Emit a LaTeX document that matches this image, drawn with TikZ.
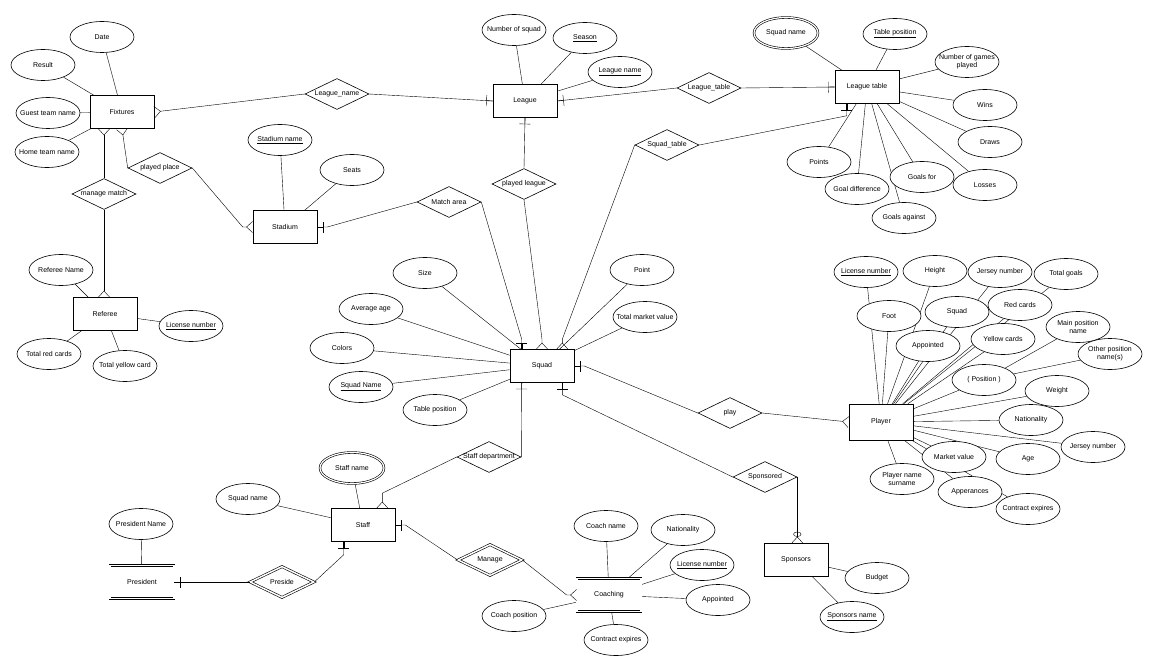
\documentclass[tikz,border=0pt]{standalone}
\usepackage{fontspec}
\setmainfont{Liberation Sans}
\usetikzlibrary{shapes.geometric,arrows.meta,backgrounds}
\begin{document}
\begin{tikzpicture}[x=1pt,y=-1pt,line width=0.6pt,
  every node/.style={font=\fontsize{7}{8}\selectfont},
  ent/.style={draw,fill=white,rectangle,minimum width=64pt,minimum height=33pt},
  went/.style={ent,double,double distance=1.5pt},
  attr/.style={draw,fill=white,ellipse,minimum width=64pt,minimum height=31pt,inner xsep=-6pt,inner ysep=0pt,align=center},
  wattr/.style={attr,double,double distance=1.2pt},
  rel/.style={draw,fill=white,diamond,minimum width=64pt,minimum height=31pt,inner sep=0pt,aspect=2,label={center:#1}},
  wrel/.style={rel=#1,double,double distance=1.5pt},
  one/.style={-{Bar[width=11pt]Rectangle[length=6pt,width=0.6pt]}},
  crow/.style={-{Straight Barb[reversed,length=6pt,width=11pt]}},
  ocrow/.style={-{Circle[open,length=5pt,width=8pt]Straight Barb[reversed,length=6pt,width=11pt]}}
]
\useasboundingbox (0,0) rectangle (1156,671);
% entities
\node[ent] (fx) at (122,112) {Fixtures};
\node[ent] (lg) at (525,101) {League};
\node[ent] (ltab) at (867,87) {League table};
\node[ent] (sd) at (285,227) {Stadium};
\node[ent] (rf) at (105,314) {Referee};
\node[ent] (sq) at (542,366) {Squad};
\node[ent,minimum height=36pt] (py) at (881,422) {Player};
\node[ent] (sf) at (363,525) {Staff};
\node[went] (pres) at (142,582) {President};
\node[went] (co) at (609,595) {Coaching};
\node[ent] (spn) at (796,560) {Sponsors};
% relationships
\node[rel=League\_name] (ln) at (337,94) {};
\node[rel=League\_table] (ltr) at (709,88) {};
\node[rel=Squad\_table] (st) at (667,145) {};
\node[rel=played league] (pl) at (524,184) {};
\node[rel=Match area] (ma) at (449,202) {};
\node[rel=played place] (pp) at (160,168) {};
\node[rel=manage match] (mm) at (104,194) {};
\node[rel=play] (pw) at (730,413) {};
\node[rel=Sponsored] (sp) at (765,477) {};
\node[rel=Staff department] (sdp) at (489,457) {};
\node[wrel=Manage] (mg) at (490,560) {};
\node[wrel=Preside] (pr) at (282,582) {};
% attributes
\node[attr] (a1) at (102,37) {Date};
\node[attr] (a2) at (43,65) {Result};
\node[attr] (a3) at (48,113) {Guest team name};
\node[attr] (a4) at (47,152) {Home team name};
\node[attr] (b1) at (514,30) {Number of squad};
\node[attr] (b2) at (585,38) {\underline{Season}};
\node[attr] (b3) at (620,72) {\underline{League name}};
\node[wattr] (c1) at (786,33) {Squad name};
\node[attr] (c2) at (895,34) {\underline{Table position}};
\node[attr] (c3) at (967,62) {Number of games\\played};
\node[attr] (c4) at (985,105) {Wins};
\node[attr] (c5) at (990,142) {Draws};
\node[attr] (c6) at (819,162) {Points};
\node[attr] (c7) at (857,189) {Goal difference};
\node[attr] (c8) at (922,177) {Goals for};
\node[attr] (c9) at (985,185) {Losses};
\node[attr] (c10) at (904,218) {Goals against};
\node[attr] (d1) at (280,140) {\underline{Stadium name}};
\node[attr] (d2) at (352,170) {Seats};
\node[attr] (e1) at (61,270) {Referee Name};
\node[attr] (e2) at (191,326) {\underline{License number}};
\node[attr] (e3) at (49,354) {Total red cards};
\node[attr] (e4) at (125,366) {Total yellow card};
\node[attr] (g1) at (425,273) {Size};
\node[attr] (g2) at (371,309) {Average age};
\node[attr] (g3) at (342,348) {Colors};
\node[attr] (g4) at (361,387) {\underline{Squad Name}};
\node[attr] (g5) at (435,410) {Table position};
\node[attr] (g6) at (642,270) {Point};
\node[attr] (g7) at (645,317) {Total market value};
% player attributes
\node[attr] (h1) at (866,272) {\underline{License number}};
\node[attr] (h2) at (935,271) {Height};
\node[attr] (h3) at (1000,272) {Jersey number};
\node[attr] (h4) at (1066,274) {Total goals};
\node[attr] (h6) at (1020,305) {Red cards};
\node[attr] (h5) at (957,312) {Squad};
\node[attr] (h7) at (889,316) {Foot};
\node[attr] (h9) at (1003,339) {Yellow cards};
\node[attr] (h8) at (928,346) {Appointed};
\node[attr] (h10) at (1078,327) {Main position\\name};
\node[attr] (h11) at (1110,354) {Other position\\name(s)};
\node[attr] (h12) at (984,380) {( Position )};
\node[attr] (h13) at (1057,391) {Weight};
\node[attr] (h14) at (1031,420) {Nationality};
\node[attr] (h15) at (1093,447) {Jersey number};
\node[attr] (h16) at (1028,459) {Age};
\node[attr] (h17) at (954,457) {Market value};
\node[attr] (h18) at (902,479) {Player name\\surname};
\node[attr] (h19) at (970,492) {Apperances};
\node[attr] (h20) at (1028,509) {Contract expires};
% staff etc
\node[wattr] (k1) at (352,468) {Staff name};
\node[attr] (k2) at (248,499) {Squad name};
\node[attr] (k3) at (141,524) {President Name};
\node[attr] (m1) at (606,526) {Coach name};
\node[attr] (m2) at (683,530) {Nationality};
\node[attr] (m3) at (702,565) {\underline{License number}};
\node[attr] (m4) at (718,600) {Appointed};
\node[attr] (m5) at (514,616) {Coach position};
\node[attr] (m6) at (616,640) {Contract expires};
\node[attr] (n1) at (877,578) {Budget};
\node[attr] (n2) at (852,617) {\underline{Sponsors name}};
\begin{pgfonlayer}{background}
\foreach \a/\b in {a1/fx,a2/fx,a3/fx,a4/fx,b1/lg,b2/lg,b3/lg,
  c1/ltab,c2/ltab,c3/ltab,c4/ltab,c5/ltab,c6/ltab,c7/ltab,c8/ltab,c9/ltab,c10/ltab,
  d1/sd,d2/sd,e1/rf,e2/rf,e3/rf,e4/rf,g1/sq,g2/sq,g3/sq,g4/sq,g5/sq,g6/sq,g7/sq,
  h1/py,h2/py,h3/py,h4/py,h5/py,h6/py,h7/py,h8/py,h9/py,h12/py,h13/py,h14/py,h15/py,
  h16/py,h17/py,h18/py,h19/py,h20/py,h10/h12,h11/h12,
  k1/sf,k2/sf,k3/pres,m1/co,m2/co,m3/co,m4/co,m5/co,m6/co,n1/spn,n2/spn}
  \draw (\a) -- (\b);
\end{pgfonlayer}
% relationship connectors
\draw[crow] (ln.west) -- (fx.east);
\draw[one] (ln.east) -- (lg.west);
\draw[one] (ltr.west) -- (lg.east);
\draw[one] (ltr.east) -- (ltab.west);
\draw[one] (st.east) -- ([xshift=12pt,yshift=-12pt]ltab.south west) -- ([xshift=12pt]ltab.south west);
\draw[crow] (st.west) -- ([xshift=-12pt,yshift=10pt]sq.north east) -- ([xshift=-12pt]sq.north east);
\draw[one] (pl.north) -- (lg.south);
\draw[crow] (pl.south) -- ([yshift=10pt]sq.north) -- (sq.north);
\draw[one] (ma.west) -- ([xshift=10pt]sd.east) -- (sd.east);
\draw[one] (ma.east) -- ([xshift=12pt,yshift=10pt]sq.north west) -- ([xshift=12pt]sq.north west);
\draw[crow] (pp.west) -- (fx.south);
\draw[crow] (pp.east) -- ([xshift=-10pt]sd.west) -- (sd.west);
\draw[crow] (mm.north) -- (mm.north |- fx.south);
\draw[crow] (mm.south) -- (mm.south |- rf.north);
\draw[one] (pw.west) -- ([xshift=10pt]sq.east) -- (sq.east);
\draw[crow] (pw.east) -- (py.west);
\draw[one] (sp.west) -- ([xshift=-12pt,yshift=-12pt]sq.south east) -- ([xshift=-12pt]sq.south east);
\draw[ocrow] (sp.east) -- (sp.east |- spn.north);
\draw[one] (sdp.east) -- ([xshift=12pt]sq.south west);
\draw[crow] (sdp.west) -- ([xshift=-13pt,yshift=15pt]sf.north east) -- ([xshift=-13pt]sf.north east);
\draw[one] (mg.west) -- ([xshift=10pt]sf.east) -- (sf.east);
\draw[crow] (mg.east) -- ([xshift=-10pt]co.west) -- (co.west);
\draw[one] (pr.east) -- ([xshift=13pt,yshift=-13pt]sf.south west) -- ([xshift=13pt]sf.south west);
\draw[one] (pr.west) -- (pres.east);
\end{tikzpicture}
\end{document}
